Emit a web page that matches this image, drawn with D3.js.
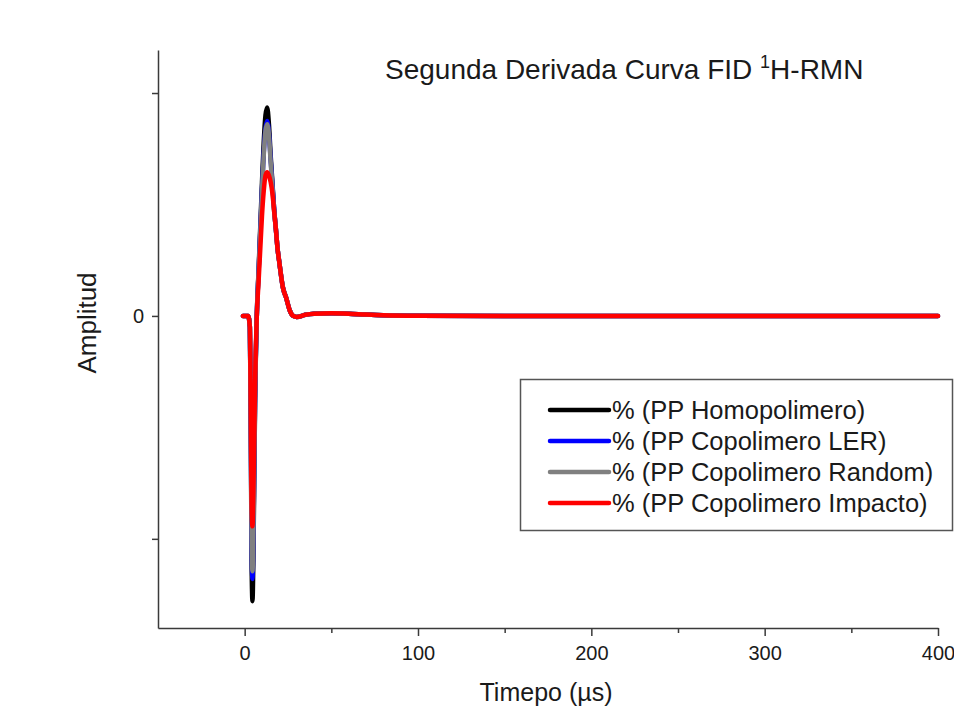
<!DOCTYPE html>
<html>
<head>
<meta charset="utf-8">
<script src="https://cdn.jsdelivr.net/npm/d3@7"></script>
<style>
  html, body { margin: 0; padding: 0; background: #fff; }
  svg { display: block; font-family: "Liberation Sans", Arial, sans-serif; }
</style>
</head>
<body>
<svg id="chart" width="954" height="708"></svg>
<script>
// ---- Data ----
const timeUs = [-1, 0, 1, 2, 3, 3.5, 4, 4.5, 5, 5.5, 6, 7, 8, 9, 10, 11, 12, 13, 14, 15, 16, 17, 18, 19, 20, 22, 24, 26, 28, 30, 35, 40, 50, 60, 70, 80, 100, 150, 200, 300, 400];

const homopolimero = [0, 0, 0, 0, -0.05, -0.45, -1.1, -1.28, -1.1, -0.75, -0.4, 0.0, 0.2, 0.4, 0.6, 0.78, 0.9, 0.935, 0.86, 0.72, 0.6, 0.48, 0.39, 0.3, 0.24, 0.13, 0.08, 0.025, 0.0, -0.005, 0.005, 0.01, 0.012, 0.01, 0.006, 0.003, 0.001, 0, 0, 0, 0];
const copolimeroLER = [0, 0, 0, 0, -0.05, -0.43, -1.02, -1.18, -1.02, -0.7, -0.37, 0.0, 0.19, 0.38, 0.57, 0.73, 0.84, 0.875, 0.82, 0.7, 0.59, 0.48, 0.39, 0.3, 0.24, 0.13, 0.08, 0.025, 0.0, -0.005, 0.005, 0.01, 0.012, 0.01, 0.006, 0.003, 0.001, 0, 0, 0, 0];
const copolimeroRandom = [0, 0, 0, 0, -0.05, -0.42, -1.0, -1.145, -1.0, -0.68, -0.36, 0.0, 0.19, 0.37, 0.56, 0.72, 0.83, 0.86, 0.81, 0.69, 0.58, 0.47, 0.39, 0.3, 0.24, 0.13, 0.08, 0.025, 0.0, -0.005, 0.005, 0.01, 0.012, 0.01, 0.006, 0.003, 0.001, 0, 0, 0, 0];
const copolimeroImpacto = [0, 0, 0, 0, -0.05, -0.4, -0.85, -0.944, -0.8, -0.55, -0.3, 0.0, 0.15, 0.3, 0.45, 0.56, 0.63, 0.645, 0.63, 0.6, 0.55, 0.47, 0.39, 0.3, 0.24, 0.13, 0.08, 0.025, 0.0, -0.005, 0.005, 0.01, 0.012, 0.01, 0.006, 0.003, 0.001, 0, 0, 0, 0];

const seriesNames = ["% (PP Homopolimero)", "% (PP Copolimero LER)", "% (PP Copolimero Random)", "% (PP Copolimero Impacto)"];
const seriesColors = ["#000000", "#0000ff", "#808080", "#ff0000"];
const seriesValues = [homopolimero, copolimeroLER, copolimeroRandom, copolimeroImpacto];

const xMajorTicks = [0, 100, 200, 300, 400];
const xMinorTicks = [50, 150, 250, 350];
const yTicks = [-1, 0, 1];
const yTickLabels = ["", "0", ""];

// ---- Layout ----
const svg = d3.select("#chart");
svg.append("rect").attr("width", 954).attr("height", 708).attr("fill", "#fff");

const x = d3.scaleLinear().domain([-50, 400]).range([158, 938]);
const y = d3.scaleLinear().domain([-1.4, 1.193]).range([628, 50]);

const axisColor = "#3a3a3a";
const textColor = "#1a1a1a";

// Lines
const line = d3.line()
  .x((d, i) => x(timeUs[i]))
  .y(d => y(d))
  .curve(d3.curveMonotoneX);

seriesValues.forEach((vals, k) => {
  svg.append("path")
    .datum(vals)
    .attr("d", line)
    .attr("fill", "none")
    .attr("stroke", seriesColors[k])
    .attr("stroke-width", 4.5)
    .attr("stroke-linejoin", "round")
    .attr("stroke-linecap", "round");
});

// X axis
const xAxis = svg.append("g").attr("transform", `translate(0,${y(-1.4)})`);
xAxis.call(d3.axisBottom(x).tickValues(xMajorTicks).tickSize(8).tickSizeOuter(0).tickPadding(10).tickFormat(d3.format("d")));
xAxis.append("g").call(d3.axisBottom(x).tickValues(xMinorTicks).tickSize(5).tickSizeOuter(0).tickFormat(""))
  .select(".domain").remove();
xAxis.selectAll(".domain, line").attr("stroke", axisColor).attr("stroke-width", 1.5);
xAxis.selectAll("text").attr("fill", textColor).style("font-size", "20px").style("font-family", "'Liberation Sans', Arial, sans-serif");

// Y axis
const yAxis = svg.append("g").attr("transform", `translate(${x(-50)},0)`);
yAxis.call(d3.axisLeft(y).tickValues(yTicks).tickSize(6).tickSizeOuter(0).tickPadding(8)
  .tickFormat((d, i) => yTickLabels[i]));
yAxis.selectAll(".domain, line").attr("stroke", axisColor).attr("stroke-width", 1.5);
yAxis.selectAll("text").attr("fill", textColor).style("font-size", "20px").style("font-family", "'Liberation Sans', Arial, sans-serif");

// Axis titles
svg.append("text")
  .attr("x", 546).attr("y", 701)
  .attr("text-anchor", "middle")
  .attr("fill", textColor)
  .style("font-size", "25px")
  .text("Timepo (µs)");

svg.append("text")
  .attr("transform", `translate(96,${323}) rotate(-90)`)
  .attr("text-anchor", "middle")
  .attr("fill", textColor)
  .style("font-size", "26px")
  .text("Amplitud");

// Chart title
const title = svg.append("text")
  .attr("x", 385).attr("y", 79)
  .attr("fill", textColor)
  .style("font-size", "28px");
title.append("tspan").text("Segunda Derivada Curva FID ");
title.append("tspan").attr("dy", -11).style("font-size", "18px").text("1");
title.append("tspan").attr("dy", 11).text("H-RMN");

// Legend
const legend = svg.append("g");
legend.append("rect")
  .attr("x", 520.5).attr("y", 379.5)
  .attr("width", 432).attr("height", 151)
  .attr("fill", "#fff")
  .attr("stroke", "#555")
  .attr("stroke-width", 1.5);

const legendRowY = [410, 441, 472, 503];
seriesNames.forEach((name, k) => {
  const g = legend.append("g").attr("transform", `translate(0,${legendRowY[k]})`);
  g.append("line")
    .attr("x1", 550).attr("x2", 609)
    .attr("y1", 0).attr("y2", 0)
    .attr("stroke", seriesColors[k])
    .attr("stroke-width", 4.5)
    .attr("stroke-linecap", "round");
  g.append("text")
    .attr("x", 612).attr("y", 0)
    .attr("dy", "0.35em")
    .attr("fill", textColor)
    .style("font-size", "25.5px")
    .text(name);
});
</script>
</body>
</html>
